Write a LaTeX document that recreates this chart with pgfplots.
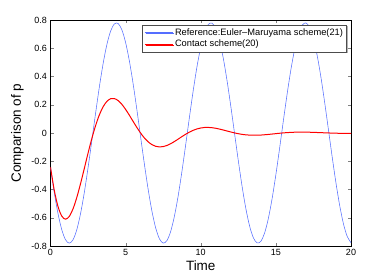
\documentclass[border=0pt]{standalone}
\usepackage{fontspec}
\setmainfont{Liberation Sans}
\usepackage{pgfplots}
\pgfplotsset{compat=1.18}
\usetikzlibrary{shadows}
\definecolor{mblue}{RGB}{85,110,255}
\begin{document}
\begin{tikzpicture}[x=1pt,y=1pt]
\path[use as bounding box] (0,0) rectangle (388,277);
\begin{axis}[
  at={(50.5pt,31pt)}, anchor=south west,
  scale only axis, width=300.5pt, height=226pt,
  xmin=0, xmax=20, ymin=-0.8, ymax=0.8,
  xtick={0,5,10,15,20},
  ytick={-0.8,-0.6,-0.4,-0.2,0,0.2,0.4,0.6,0.8},
  /pgf/number format/assume math mode=true,
  tick label style={font=\fontsize{9}{10}\selectfont},
  major tick length=3pt,
  axis line style={line width=0.5pt},
  xlabel={Time}, ylabel={Comparison of p},
  label style={font=\fontsize{13.5}{14}\selectfont},
  xlabel style={at={(axis description cs:0.5,-0.1093)}, anchor=base},
  ylabel style={at={(axis description cs:-0.0982,0.5)}, anchor=base},
  legend style={at={(rel axis cs:0.9857,0.979)}, anchor=north east,
    font=\fontsize{9.3}{10.5}\selectfont, draw=black!70, fill=white,
    drop shadow={shadow xshift=1pt, shadow yshift=-1pt, fill=black!30, opacity=1},
    inner sep=1.5pt, row sep=-0.5pt, cells={anchor=west}},
  legend image code/.code={\draw[#1] (0pt,0pt) -- (28pt,0pt);},
]
\addplot[mblue, line width=0.55pt, smooth] coordinates {
(0,-0.2459)(0.25,-0.4214)(0.5,-0.5707)(0.75,-0.6845)(1,-0.7558)(1.25,-0.78)
(1.5,-0.7558)(1.75,-0.6845)(2,-0.5707)(2.25,-0.4214)(2.5,-0.2459)(2.75,-0.0552)
(3,0.1390)(3.25,0.3246)(3.5,0.4900)(3.75,0.6249)(4,0.7210)(4.25,0.7722)
(4.5,0.7754)(4.75,0.7305)(5,0.6401)(5.25,0.5098)(5.5,0.3480)(5.75,0.1644)
(6,-0.0293)(6.25,-0.2213)(6.5,-0.3991)(6.75,-0.5528)(7,-0.6716)(7.25,-0.7490)
(7.5,-0.7796)(7.75,-0.7617)(8,-0.6965)(8.25,-0.5880)(8.5,-0.4437)(8.75,-0.2703)
(9,-0.0810)(9.25,0.1135)(9.5,0.3008)(9.75,0.4696)(10,0.6090)(10.25,0.7107)
(10.5,0.7681)(10.75,0.7778)(11,0.7391)(11.25,0.6545)(11.5,0.5291)(11.75,0.3707)
(12,0.1897)(12.25,-0.0034)(12.5,-0.1962)(12.75,-0.3770)(13,-0.5342)(13.25,-0.6582)
(13.5,-0.7413)(13.75,-0.7783)(14,-0.7669)(14.25,-0.7078)(14.5,-0.6048)(14.75,-0.4640)
(15,-0.2945)(15.25,-0.1066)(15.5,0.0878)(15.75,0.2768)(16,0.4487)(16.25,0.5926)
(16.5,0.6997)(16.75,0.7632)(17,0.7793)(17.25,0.7470)(17.5,0.6682)(17.75,0.5480)
(18,0.3941)(18.25,0.2147)(18.5,0.0225)(18.75,-0.1711)(19,-0.3541)(19.25,-0.5150)
(19.5,-0.6438)(19.75,-0.7329)(20,-0.7762)
};
\addlegendentry{Reference:Euler--Maruyama scheme(21)}
\addplot[red, line width=1pt, smooth] coordinates {
(0,-0.2415)(0.25,-0.4052)(0.5,-0.5208)(0.75,-0.5885)(1,-0.6101)(1.25,-0.5905)
(1.5,-0.5366)(1.75,-0.4563)(2,-0.3582)(2.25,-0.2512)(2.5,-0.1422)(2.75,-0.0394)
(3,0.0520)(3.25,0.1278)(3.5,0.1854)(3.75,0.2236)(4,0.2426)(4.25,0.2438)
(4.5,0.2296)(4.75,0.2029)(5,0.1670)(5.25,0.1257)(5.5,0.0819)(5.75,0.0389)
(6,-0.0008)(6.25,-0.0350)(6.5,-0.0624)(6.75,-0.0822)(7,-0.0941)(7.25,-0.0986)
(7.5,-0.0962)(7.75,-0.0882)(8,-0.0757)(8.25,-0.0601)(8.5,-0.0429)(8.75,-0.0253)
(9,-0.0085)(9.25,0.0066)(9.5,0.0192)(9.75,0.0289)(10,0.0355)(10.25,0.0390)
(10.5,0.0395)(10.75,0.0376)(11,0.0335)(11.25,0.0278)(11.5,0.0212)(11.75,0.0142)
(12,0.0072)(12.25,0.0007)(12.5,-0.0050)(12.75,-0.0096)(13,-0.0129)(13.25,-0.0150)
(13.5,-0.0159)(13.75,-0.0157)(14,-0.0145)(14.5,-0.0101)(15,-0.0045)(15.5,0.0008)
(16,0.0045)(16.5,0.0062)(17,0.0061)(17.5,0.0046)(18,0.0024)(18.5,0.0003)
(19,-0.0015)(19.5,-0.0024)(20,-0.0025)
};
\addlegendentry{Contact scheme(20)}
\end{axis}
\end{tikzpicture}
\end{document}
